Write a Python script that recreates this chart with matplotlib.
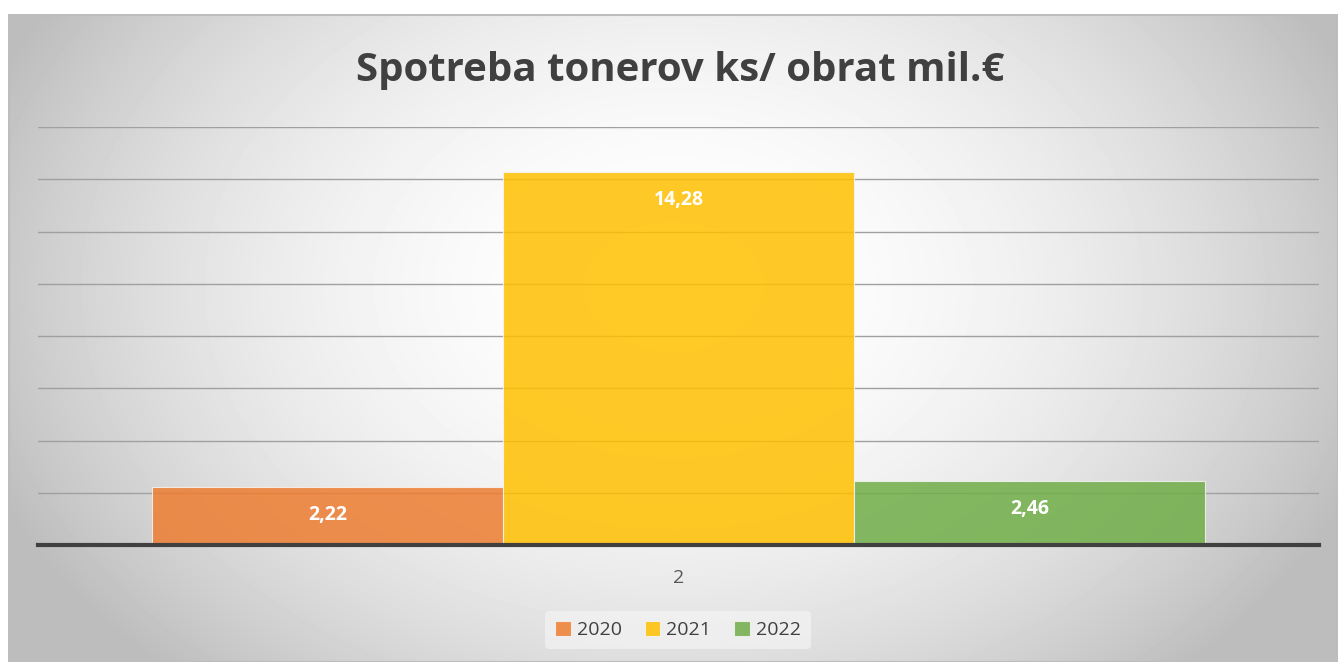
import numpy as np
import matplotlib.pyplot as plt
from matplotlib.patches import Rectangle

plt.rcParams['font.family'] = ['Open Sans', 'DejaVu Sans']

title = 'Spotreba tonerov ks/ obrat mil.€'
category = ['2']
years = ['2020', '2021', '2022']
values = [2.22, 14.28, 2.46]
labels = ['2,22', '14,28', '2,46']
colors = ['#ED7D31', '#FFC000', '#70AD47']

W, H = 1338, 662
fig = plt.figure(figsize=(W / 100, H / 100), dpi=100)
fig.patch.set_facecolor('white')

# gray panel with radial gradient
bg = fig.add_axes([8 / W, 0, (W - 8) / W, (H - 14) / H])
bg.set_axis_off()
yy, xx = np.mgrid[0:H - 14, 0:W - 8]
cx, cy = (W - 8) / 2, (H - 14) * 0.42
r = np.sqrt(((xx - cx) / (W * 0.55)) ** 2 + ((yy - cy) / (H * 0.8)) ** 2)
g = np.clip(1.0 - 0.26 * r ** 2, 0.74, 1.0)
bg.imshow(g, cmap='gray', vmin=0, vmax=1, aspect='auto', interpolation='bilinear')
bg.add_patch(Rectangle((0, 0), W - 9, H - 15, fill=False, ec='#bdbdbd', lw=1.5))

ax = fig.add_axes([38 / W, 1 - 545 / H, (1319 - 38) / W, (545 - 127) / H])
ax.patch.set_alpha(0)
ax.set_ylim(0, 16)
ax.set_xlim(-0.5, 0.5)
ax.set_yticks(np.arange(2, 17, 2))
ax.yaxis.grid(True, color='#a0a0a0', lw=1)
ax.set_axisbelow(True)
for s in ['top', 'right', 'left']:
    ax.spines[s].set_visible(False)
ax.spines['bottom'].set_color('#404040')
ax.spines['bottom'].set_linewidth(3)
ax.spines['bottom'].set_zorder(5)
ax.tick_params(axis='y', length=0, labelleft=False)
ax.tick_params(axis='x', length=0, pad=17, labelsize=14, labelcolor='#595959')

bw = 1053 / 1281 / 3
pos = [-bw, 0, bw]
bars = ax.bar(pos, values, width=bw, color=colors, alpha=0.85,
              edgecolor='#f4f4f4', linewidth=0.8)
for i, b in enumerate(bars):
    ax.annotate(labels[i], (pos[i], values[i]), xytext=(0, -20), textcoords='offset points',
                ha='center', va='center', color='white', fontsize=14, fontweight='bold')
ax.set_xticks([0])
ax.set_xticklabels(category)

fig.text(680 / W, 1 - 70 / H, title, ha='center', va='center', fontsize=29,
         fontweight='bold', color='#404040')

leg = fig.legend(handles=bars, labels=years, loc='center', bbox_to_anchor=(678 / W, 1 - 630 / H),
                 ncol=3, frameon=True, fontsize=14, handlelength=0.8, handleheight=0.8,
                 handletextpad=0.3, columnspacing=1.2, labelcolor='#404040', borderpad=0.5)
leg.get_frame().set_facecolor('#f7f7f7')
leg.get_frame().set_edgecolor('none')
leg.get_frame().set_alpha(0.6)

fig.savefig('out.png', dpi=100)
